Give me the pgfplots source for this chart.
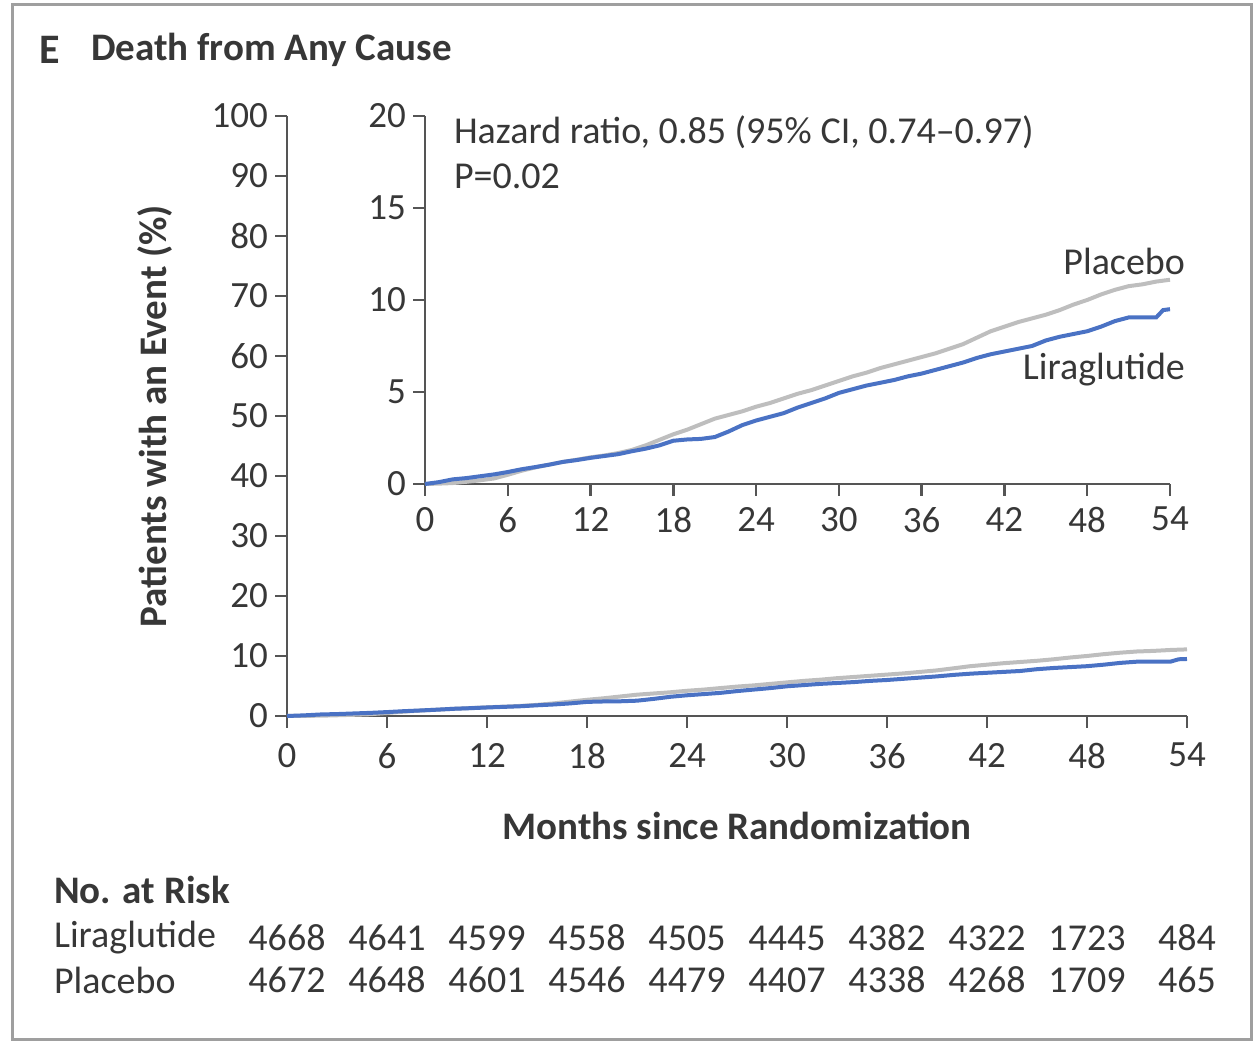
\documentclass[border=0pt]{standalone}
\usepackage{pgfplots}
\pgfplotsset{compat=1.18}
\usepackage{pgfplotstable}
\usepackage{fontspec}
\setmainfont{Carlito}
\definecolor{lirablue}{RGB}{74,114,196}
\definecolor{placgray}{RGB}{190,190,190}
\definecolor{axgray}{RGB}{85,85,85}
\definecolor{txt}{RGB}{55,55,55}

\pgfplotstableread{
m v
0 0
1 0.1
2 0.25
3 0.32
4 0.42
5 0.52
6 0.65
7 0.8
8 0.92
9 1.05
10 1.2
11 1.3
12 1.42
13 1.52
14 1.62
15 1.78
16 1.92
17 2.1
18 2.35
19 2.42
20 2.45
21 2.55
22 2.85
23 3.2
24 3.45
25 3.65
26 3.85
27 4.15
28 4.4
29 4.65
30 4.95
31 5.15
32 5.35
33 5.5
34 5.65
35 5.85
36 6.0
37 6.2
38 6.4
39 6.6
40 6.85
41 7.05
42 7.2
43 7.35
44 7.5
45 7.8
46 8.0
47 8.15
48 8.3
49 8.55
50 8.85
51 9.05
52 9.05
53 9.05
53.5 9.45
54 9.5
}\lira

\pgfplotstableread{
m v
0 0
1 0.02
2 0.05
3 0.12
4 0.2
5 0.3
6 0.5
7 0.72
8 0.9
9 1.05
10 1.2
11 1.32
12 1.45
13 1.55
14 1.68
15 1.85
16 2.1
17 2.4
18 2.7
19 2.95
20 3.25
21 3.55
22 3.75
23 3.95
24 4.2
25 4.4
26 4.65
27 4.9
28 5.1
29 5.35
30 5.6
31 5.85
32 6.05
33 6.3
34 6.5
35 6.7
36 6.9
37 7.1
38 7.35
39 7.6
40 7.95
41 8.3
42 8.55
43 8.8
44 9.0
45 9.2
46 9.45
47 9.75
48 10.0
49 10.3
50 10.55
51 10.75
52 10.85
53 11.0
54 11.1
}\plac

\pgfplotsset{
  kmaxis/.style={
    scale only axis,
    axis x line=bottom, axis y line=left,
    axis line style={-, draw=axgray, line width=1.2pt},
    tick align=outside,
    major tick length=6pt,
    tick style={draw=axgray, line width=1.2pt},
    every tick label/.append style={font=\fontsize{18.5}{18.5}\selectfont, text=txt},
    /pgf/number format/assume math mode=true,
    clip=false,
    xmin=0, xmax=54,
    xtick={0,6,...,54},
  }
}

\begin{document}
\begin{tikzpicture}[x=0.5pt,y=0.5pt]
\path (0,0) rectangle (1259,1047);
\draw[draw=gray!75, line width=1.5pt] (12,7) rectangle (1251,1042);

\node[anchor=west, text=txt, font=\fontsize{21}{21}\selectfont\bfseries] at (32,997) {E};
\node[anchor=west, text=txt, font=\fontsize{19.5}{19.5}\selectfont\bfseries] at (84,997) {Death from Any Cause};

% main axis
\begin{axis}[kmaxis, at={(287pt*0.5,331pt*0.5)}, anchor=south west,
  width=450pt, height=300pt,
  ymin=0, ymax=100, ytick={0,10,...,100},
  xlabel={Months since Randomization},
  xlabel style={font=\fontsize{19.5}{19.5}\selectfont\bfseries, text=txt, yshift=-15pt},
  ylabel={Patients with an Event (\%)},
  ylabel style={font=\fontsize{19.5}{19.5}\selectfont\bfseries, text=txt, yshift=13pt},
  xticklabel style={yshift=-4pt},
]
\addplot[placgray, line width=2pt] table[x=m,y=v]{\plac};
\addplot[lirablue, line width=2pt] table[x=m,y=v]{\lira};
\end{axis}

% inset axis
\begin{axis}[kmaxis, at={(425pt*0.5,563pt*0.5)}, anchor=south west,
  width=372.5pt, height=184pt,
  ymin=0, ymax=20, ytick={0,5,...,20},
  xticklabel style={yshift=-2pt},
]
\addplot[placgray, line width=2pt] table[x=m,y=v]{\plac};
\addplot[lirablue, line width=2pt] table[x=m,y=v]{\lira};
\end{axis}

\node[anchor=west, text=txt, font=\fontsize{19}{19}\selectfont] at (447,915) {Hazard ratio, 0.85 (95\% CI, 0.74--0.97)};
\node[anchor=west, text=txt, font=\fontsize{19}{19}\selectfont] at (447,871) {P=0.02};
\node[anchor=east, text=txt, font=\fontsize{19}{19}\selectfont] at (1192,786) {Placebo};
\node[anchor=east, text=txt, font=\fontsize{19}{19}\selectfont] at (1192,677) {Liraglutide};

% risk table
\node[anchor=west, text=txt, font=\fontsize{19.5}{19.5}\selectfont\bfseries] at (47,157) {No. at Risk};
\node[anchor=west, text=txt, font=\fontsize{19}{19}\selectfont] at (47,109) {Liraglutide};
\node[anchor=west, text=txt, font=\fontsize{19}{19}\selectfont] at (47,67) {Placebo};
\foreach \n [count=\i from 0] in {4668,4641,4599,4558,4505,4445,4382,4322,1723,484}
  \node[text=txt, font=\fontsize{19}{19}\selectfont] at (287+100*\i,109) {\n};
\foreach \n [count=\i from 0] in {4672,4648,4601,4546,4479,4407,4338,4268,1709,465}
  \node[text=txt, font=\fontsize{19}{19}\selectfont] at (287+100*\i,67) {\n};
\end{tikzpicture}
\end{document}
